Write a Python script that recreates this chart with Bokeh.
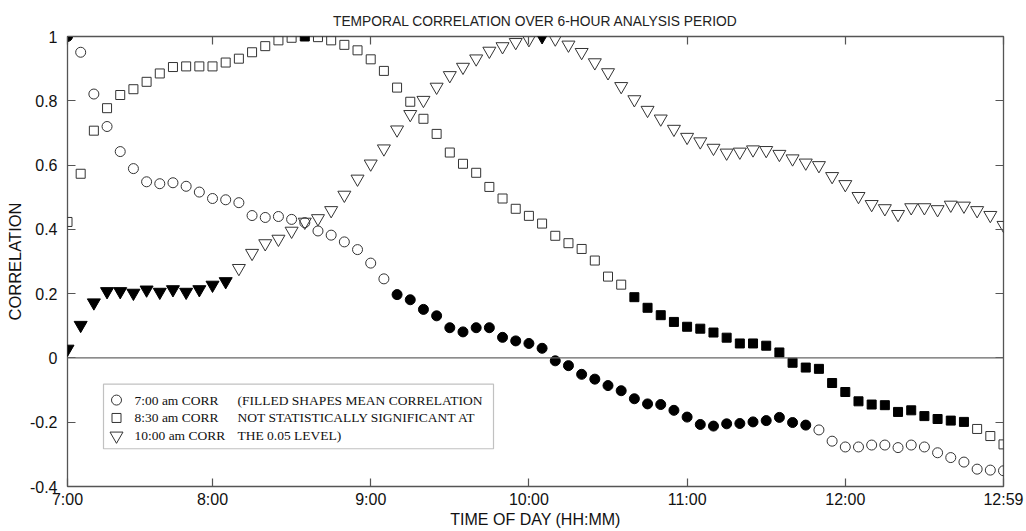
from bokeh.plotting import figure
from bokeh.models import (Range1d, FixedTicker, LinearAxis, Span, Label, BoxAnnotation)
from bokeh.embed import file_html
from bokeh.resources import INLINE

# ---------------- data (5-minute samples, index 0 = 7:00) ----------------
corr_700 = [1.000, 0.951, 0.821, 0.720, 0.642, 0.589, 0.548, 0.542, 0.545, 0.534,
            0.516, 0.496, 0.492, 0.483, 0.443, 0.437, 0.440, 0.431, 0.421, 0.395,
            0.382, 0.361, 0.337, 0.295, 0.246, 0.197, 0.181, 0.151, 0.131, 0.094,
            0.081, 0.094, 0.094, 0.064, 0.053, 0.045, 0.030, -0.009, -0.024, -0.051,
            -0.066, -0.086, -0.102, -0.127, -0.143, -0.145, -0.163, -0.184, -0.207, -0.212,
            -0.205, -0.204, -0.199, -0.195, -0.185, -0.201, -0.209, -0.224, -0.259, -0.277,
            -0.277, -0.271, -0.271, -0.279, -0.271, -0.277, -0.295, -0.310, -0.324, -0.346,
            -0.349, -0.351]
ns_700 = [1, 0, 0, 0, 0, 0, 0, 0, 0, 0,
          0, 0, 0, 0, 0, 0, 0, 0, 0, 0,
          0, 0, 0, 0, 0, 1, 1, 1, 1, 1,
          1, 1, 1, 1, 1, 1, 1, 1, 1, 1,
          1, 1, 1, 1, 1, 1, 1, 1, 1, 1,
          1, 1, 1, 1, 1, 1, 1, 0, 0, 0,
          0, 0, 0, 0, 0, 0, 0, 0, 0, 0,
          0, 0]

corr_830 = [0.423, 0.573, 0.707, 0.777, 0.818, 0.836, 0.859, 0.885, 0.905, 0.907,
            0.907, 0.907, 0.919, 0.931, 0.951, 0.970, 0.988, 0.996, 1.000, 0.998,
            0.988, 0.974, 0.957, 0.929, 0.893, 0.841, 0.797, 0.744, 0.697, 0.639,
            0.604, 0.576, 0.532, 0.496, 0.464, 0.442, 0.418, 0.380, 0.357, 0.339,
            0.303, 0.253, 0.228, 0.189, 0.156, 0.133, 0.112, 0.097, 0.091, 0.079,
            0.063, 0.045, 0.045, 0.038, 0.017, -0.015, -0.030, -0.034, -0.078, -0.106,
            -0.135, -0.145, -0.147, -0.168, -0.163, -0.181, -0.190, -0.195, -0.199, -0.221,
            -0.243, -0.269]
ns_830 = [0, 0, 0, 0, 0, 0, 0, 0, 0, 0,
          0, 0, 0, 0, 0, 0, 0, 0, 1, 0,
          0, 0, 0, 0, 0, 0, 0, 0, 0, 0,
          0, 0, 0, 0, 0, 0, 0, 0, 0, 0,
          0, 0, 0, 1, 1, 1, 1, 1, 1, 1,
          1, 1, 1, 1, 1, 1, 1, 1, 1, 1,
          1, 1, 1, 1, 1, 1, 1, 1, 1, 0,
          0, 0]

corr_1000 = [0.028, 0.102, 0.172, 0.207, 0.207, 0.202, 0.212, 0.205, 0.213, 0.205,
             0.213, 0.227, 0.238, 0.279, 0.326, 0.356, 0.370, 0.395, 0.423, 0.434,
             0.459, 0.507, 0.557, 0.604, 0.651, 0.710, 0.758, 0.802, 0.843, 0.879,
             0.905, 0.931, 0.955, 0.969, 0.982, 0.991, 1.000, 0.993, 0.974, 0.951,
             0.919, 0.888, 0.845, 0.804, 0.771, 0.744, 0.712, 0.687, 0.673, 0.653,
             0.638, 0.641, 0.648, 0.646, 0.634, 0.620, 0.607, 0.599, 0.565, 0.540,
             0.503, 0.478, 0.465, 0.447, 0.468, 0.468, 0.462, 0.476, 0.473, 0.459,
             0.444, 0.413]
ns_1000 = [1, 1, 1, 1, 1, 1, 1, 1, 1, 1,
           1, 1, 1, 0, 0, 0, 0, 0, 0, 0,
           0, 0, 0, 0, 0, 0, 0, 0, 0, 0,
           0, 0, 0, 0, 0, 0, 1, 0, 0, 0,
           0, 0, 0, 0, 0, 0, 0, 0, 0, 0,
           0, 0, 0, 0, 0, 0, 0, 0, 0, 0,
           0, 0, 0, 0, 0, 0, 0, 0, 0, 0,
           0, 0]

series_names = ["7:00 am CORR", "8:30 am CORR", "10:00 am CORR"]
note_lines = ["(FILLED SHAPES MEAN CORRELATION",
              "NOT STATISTICALLY SIGNIFICANT AT",
              "THE 0.05 LEVEL)"]

x_tick_idx = [0, 11, 23, 35, 47, 59, 71]
x_tick_labels = ["7:00", "8:00", "9:00", "10:00", "11:00", "12:00", "12:59"]
y_ticks = [-0.4, -0.2, 0.0, 0.2, 0.4, 0.6, 0.8, 1.0]
y_tick_labels = ["-0.4", "-0.2", "0", "0.2", "0.4", "0.6", "0.8", "1"]

title_text = "TEMPORAL CORRELATION OVER 6-HOUR ANALYSIS PERIOD"
x_title = "TIME OF DAY (HH:MM)"
y_title = "CORRELATION"

# ---------------- figure ----------------
W, H = 1024, 530
FL, FR, FT, FB = 67, 1003, 36, 489
XMIN, XMAX, YMIN, YMAX = 0, 71, -0.4, 1.0

p = figure(width=W, height=H, x_range=Range1d(XMIN, XMAX), y_range=Range1d(YMIN, YMAX),
           output_backend="svg", toolbar_location=None,
           min_border_left=FL, min_border_right=W - FR,
           min_border_top=FT, min_border_bottom=H - FB)
p.background_fill_color = "white"
p.border_fill_color = "white"
p.outline_line_color = "#555555"
p.outline_line_width = 1.3
p.xgrid.grid_line_color = None
p.ygrid.grid_line_color = None

p.title.text = title_text
p.title.text_font = "Liberation Sans"
p.title.text_font_size = "13.8px"
p.title.text_font_style = "normal"
p.title.text_color = "#222222"
p.title.align = "center"
p.title.standoff = 16


def px2x(fx):
    return XMIN + (fx - FL) * (XMAX - XMIN) / (FR - FL)


def px2y(fy):
    return YMAX - (fy - FT) * (YMAX - YMIN) / (FB - FT)


def style_axis(ax, labels=True):
    ax.axis_line_color = None
    ax.major_tick_in = 8
    ax.major_tick_out = 0
    ax.major_tick_line_color = "#555555"
    ax.major_tick_line_width = 1.2
    ax.minor_tick_line_color = None
    ax.major_label_text_font = "Liberation Sans"
    ax.major_label_text_color = "#111111"
    if not labels:
        # mirrored tick marks only: no tick labels drawn
        ax.major_label_text_color = None
        ax.major_label_text_alpha = 0
        ax.major_label_text_font_size = "1px"
        ax.major_label_standoff = 0


xax = p.xaxis[0]
xax.ticker = FixedTicker(ticks=x_tick_idx)
xax.major_label_overrides = dict(zip(x_tick_idx, x_tick_labels))
style_axis(xax)
xax.major_label_text_font_size = "16px"
xax.major_label_standoff = 4
xax.axis_label = x_title
xax.axis_label_text_font = "Liberation Sans"
xax.axis_label_text_font_size = "16px"
xax.axis_label_text_font_style = "normal"
xax.axis_label_text_color = "#111111"
xax.axis_label_standoff = 0

yax = p.yaxis[0]
yax.ticker = FixedTicker(ticks=y_ticks)
yax.major_label_overrides = dict(zip(y_ticks, y_tick_labels))
style_axis(yax)
yax.major_label_text_font_size = "16px"
yax.major_label_standoff = 10
yax.axis_label = y_title
yax.axis_label_text_font = "Liberation Sans"
yax.axis_label_text_font_size = "16.5px"
yax.axis_label_text_font_style = "normal"
yax.axis_label_text_color = "#111111"
yax.axis_label_standoff = 3

top_ax = LinearAxis(ticker=FixedTicker(ticks=x_tick_idx))
style_axis(top_ax, labels=False)
p.add_layout(top_ax, "above")
right_ax = LinearAxis(ticker=FixedTicker(ticks=y_ticks))
style_axis(right_ax, labels=False)
p.add_layout(right_ax, "right")

p.add_layout(Span(location=0, dimension="width", line_color="#666666", line_width=1.3))

# ---------------- data markers ----------------
idx = list(range(len(corr_700)))
OUT = "#333333"
series = [(corr_700, ns_700, "circle", 10),
          (corr_830, ns_830, "square", 9),
          (corr_1000, ns_1000, "inverted_triangle", 13)]
for vals, ns, mk, sz in series:
    xo = [i for i, f in zip(idx, ns) if not f]
    yo = [v for v, f in zip(vals, ns) if not f]
    xf = [i for i, f in zip(idx, ns) if f]
    yf = [v for v, f in zip(vals, ns) if f]
    p.scatter(xo, yo, marker=mk, size=sz, fill_alpha=0, line_color=OUT, line_width=1)
    p.scatter(xf, yf, marker=mk, size=sz, fill_color="black", line_color="black", line_width=1)

# ---------------- legend box (manual) ----------------
p.add_layout(BoxAnnotation(left=px2x(103), right=px2x(493), top=px2y(386), bottom=px2y(451),
                           fill_alpha=0.0, line_color="#333333", line_width=1.2))
row_y = [402, 420, 438]
for (vals, ns, mk, sz), name, ry in zip(series, series_names, row_y):
    p.scatter([px2x(116)], [px2y(ry)], marker=mk, size=sz, fill_alpha=0,
              line_color=OUT, line_width=1)
    p.add_layout(Label(x=px2x(134), y=px2y(ry), text=name, text_font="Liberation Serif",
                       text_font_size="13.5px", text_baseline="middle", text_color="#111111"))
for line, ry in zip(note_lines, row_y):
    p.add_layout(Label(x=px2x(237), y=px2y(ry), text=line, text_font="Liberation Serif",
                       text_font_size="13.5px", text_baseline="middle", text_color="#111111"))

open("out.html", "w").write(file_html(p, INLINE))
